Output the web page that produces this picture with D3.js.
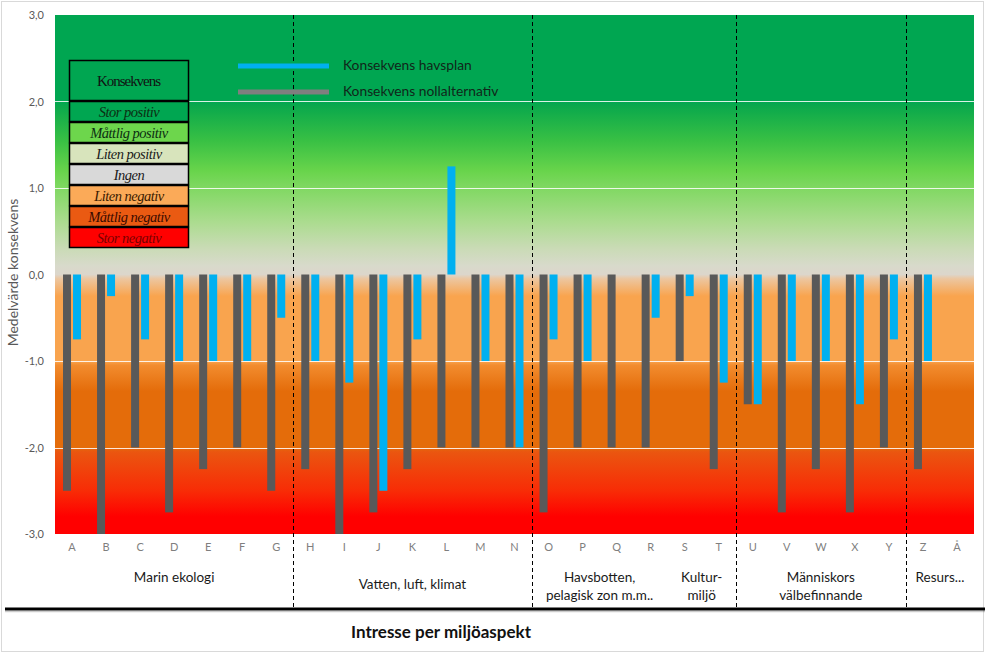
<!DOCTYPE html>
<html><head><meta charset="utf-8">
<script src="https://cdn.jsdelivr.net/npm/d3@7"></script>
<style>body{margin:0;background:#fff}svg{display:block}</style>
</head><body>
<script>
const categories = ["A","B","C","D","E","F","G","H","I","J","K","L","M","N","O","P","Q","R","S","T","U","V","W","X","Y","Z","Å"];
const nollalternativ = [-2.5,-3,-2,-2.75,-2.25,-2,-2.5,-2.25,-3,-2.75,-2.25,-2,-2,-2,-2.75,-2,-2,-2,-1,-2.25,-1.5,-2.75,-2.25,-2.75,-2,-2.25,null];
const havsplan = [-0.75,-0.25,-0.75,-1,-1,-1,-0.5,-1,-1.25,-2.5,-0.75,1.25,-1,-2,-0.75,-1,0,-0.5,-0.25,-1.25,-1.5,-1,-1,-1.5,-0.75,-1,null];
const yTicks = [3,2,1,0,-1,-2,-3];
const groups = [
  {name:["Marin ekologi"], from:"A", to:"G"},
  {name:["Vatten, luft, klimat"], from:"H", to:"N"},
  {name:["Havsbotten,","pelagisk zon m.m.."], from:"O", to:"R"},
  {name:["Kultur-","miljö"], from:"S", to:"T"},
  {name:["Människors","välbefinnande"], from:"U", to:"Y"},
  {name:["Resurs..."], from:"Z", to:"Å"}
];
const separators = ["H","O","U","Z"];
const legendLevels = ["Stor positiv","Måttlig positiv","Liten positiv","Ingen","Liten negativ","Måttlig negativ","Stor negativ"];
const legendColors = ["#00a651","#6dd64c","#d8e4bc","#d9d9d9","#fbaa58","#ea5a12","#ff0000"];
const legendTextColors = ["#0c2e12","#0c2e12","#1a1a1a","#1a1a1a","#3a1a00","#3a0a00","#7a0000"];
const seriesNames = ["Konsekvens havsplan","Konsekvens nollalternativ"];
const seriesColors = ["#00b0f0","#595959"];

const W=991,H=653;
const svg=d3.select("body").append("svg").attr("width",W).attr("height",H);
svg.append("rect").attr("x",1.5).attr("y",1.5).attr("width",982).attr("height",650).attr("fill","#fff").attr("stroke","#d9d9d9");

const x=d3.scaleBand().domain(categories).range([55,974]).paddingInner(0).paddingOuter(0);
const y=d3.scaleLinear().domain([-3,3]).range([534,15]);
const sub=d3.scaleBand().domain(["noll","havs"]).range([-9,9]).paddingInner(0.2);

// gradient background
const stops=[[3,"#00a651"],[2,"#00a651"],[1.95,"#0aa84c"],[1.55,"#38c044"],[1.2,"#68d44b"],[1.0,"#80d862"],[0.6,"#acdc90"],[0.3,"#cadbb6"],[0.1,"#d8dacb"],[0,"#dcd6cb"],[-0.05,"#ecc6a0"],[-0.25,"#f9a44e"],[-1.0,"#f9a44e"],[-1.05,"#f28c2e"],[-1.35,"#e46c0a"],[-2.0,"#e46c0a"],[-2.05,"#ea5610"],[-2.5,"#f82c06"],[-2.8,"#ff0000"],[-3,"#ff0000"]];
const defs=svg.append("defs");
const grad=defs.append("linearGradient").attr("id","bg").attr("gradientUnits","userSpaceOnUse")
  .attr("x1",0).attr("x2",0).attr("y1",y(3)).attr("y2",y(-3));
grad.selectAll("stop").data(stops).join("stop")
  .attr("offset",d=>(y(d[0])-y(3))/(y(-3)-y(3))).attr("stop-color",d=>d[1]);
svg.append("rect").attr("x",55).attr("y",y(3)).attr("width",974-55).attr("height",y(-3)-y(3)).attr("fill","url(#bg)");

// gridlines
svg.append("g").selectAll("line").data(yTicks.filter(t=>t!==3&&t!==-3&&t!==0)).join("line")
  .attr("x1",55).attr("x2",974).attr("y1",d=>Math.round(y(d))+0.5).attr("y2",d=>Math.round(y(d))+0.5)
  .attr("stroke","#ffffff").attr("stroke-opacity",0.85).attr("stroke-width",1);

// y axis
const fmt=d3.format(".1f");
const yAxis=d3.axisLeft(y).tickValues(yTicks).tickSize(0).tickPadding(11).tickFormat(d=>fmt(d).replace(".",",").replace("\u2212","-"));
const ga=svg.append("g").attr("transform","translate(55,0)").call(yAxis);
ga.select(".domain").remove();
ga.selectAll("text").attr("fill","#595959").attr("font-family","Lato, 'Open Sans', sans-serif").attr("font-size",11);

svg.append("text").attr("transform",`translate(18,${y(0)-2}) rotate(-90)`).attr("text-anchor","middle")
  .attr("font-family","Lato, 'Open Sans', sans-serif").attr("font-size",14).attr("fill","#595959").text("Medelvärde konsekvens");

// bars
const bars=svg.append("g");
categories.forEach((c,i)=>{
  const cx=x(c)+x.bandwidth()/2;
  [["noll",nollalternativ[i],seriesColors[1]],["havs",havsplan[i],seriesColors[0]]].forEach(([k,v,col])=>{
    if(v==null||v===0) return;
    bars.append("rect").attr("x",cx+sub(k)).attr("width",sub.bandwidth())
      .attr("y",y(Math.max(0,v))).attr("height",Math.abs(y(v)-y(0))).attr("fill",col);
  });
});

// category axis
const xAxis=d3.axisBottom(x).tickSize(0).tickPadding(9);
const gx=svg.append("g").attr("transform",`translate(0,${y(-3)})`).call(xAxis);
gx.select(".domain").remove();
gx.selectAll("text").attr("fill","#7f7f7f").attr("font-family","Lato, 'Open Sans', sans-serif").attr("font-size",11);

// separators
svg.append("g").selectAll("line").data(separators).join("line")
  .attr("x1",d=>Math.round(x(d))+0.5).attr("x2",d=>Math.round(x(d))+0.5).attr("y1",15).attr("y2",607)
  .attr("stroke","#000").attr("stroke-width",1).attr("stroke-dasharray","4,3");

// group labels
groups.forEach(g=>{
  const cx=(x(g.from)+x(g.to)+x.bandwidth())/2;
  const t=svg.append("text").attr("text-anchor","middle").attr("font-family","Lato, 'Open Sans', sans-serif").attr("font-size",13.5).attr("fill","#1a1a1a");
  const y0=g.name.length===1?(g.from==="H"?589:582):582;
  g.name.forEach((n,j)=>t.append("tspan").attr("x",cx).attr("y",y0+j*18).text(n));
});

// bottom thick line
svg.append("line").attr("x1",5).attr("x2",985).attr("y1",609).attr("y2",609).attr("stroke","#000").attr("stroke-width",3);
svg.append("line").attr("x1",5).attr("x2",985).attr("y1",611.5).attr("y2",611.5).attr("stroke","#000").attr("stroke-opacity",0.2).attr("stroke-width",1.5);

svg.append("text").attr("x",441).attr("y",638).attr("text-anchor","middle").attr("font-family","Lato, 'Open Sans', sans-serif")
  .attr("font-weight","bold").attr("font-size",17).attr("fill","#111").text("Intresse per miljöaspekt");

// series legend
seriesNames.forEach((n,i)=>{
  const ly=[66,92][i];
  svg.append("line").attr("x1",238).attr("x2",329).attr("y1",ly).attr("y2",ly).attr("stroke",seriesColors[i]==="#595959"?"#7f7f7f":seriesColors[i]).attr("stroke-width",5);
  svg.append("text").attr("x",343).attr("y",ly+4).attr("font-family","Lato, 'Open Sans', sans-serif").attr("font-size",13.8).attr("fill","#10261a").text(n);
});

// Konsekvens legend box
const lb=svg.append("g");
lb.append("rect").attr("x",69.5).attr("y",60.5).attr("width",119).attr("height",40).attr("fill","#00a651").attr("stroke","#000").attr("stroke-width",1.5);
lb.append("text").attr("x",129).attr("y",86).attr("text-anchor","middle").attr("font-family","'Liberation Serif', 'DejaVu Serif', serif").attr("font-size",15).attr("fill","#111").attr("textLength",64).text("Konsekvens");
legendLevels.forEach((l,i)=>{
  const ry=101.5+i*21;
  lb.append("rect").attr("x",69.5).attr("y",ry).attr("width",119).attr("height",20).attr("fill",legendColors[i]).attr("stroke","#000").attr("stroke-width",1.5);
  lb.append("text").attr("x",129).attr("y",ry+15).attr("text-anchor","middle").attr("font-family","'Liberation Serif', 'DejaVu Serif', serif")
    .attr("font-style","italic").attr("font-size",14.5).attr("letter-spacing",-0.5).attr("fill",legendTextColors[i]).text(l);
});
</script>
</body></html>
